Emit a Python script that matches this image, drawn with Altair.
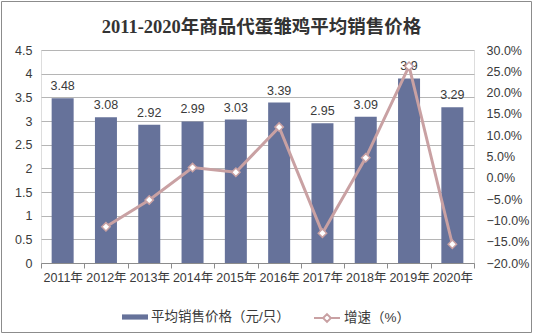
import altair as alt
import pandas as pd

years = ["2011年", "2012年", "2013年", "2014年", "2015年",
         "2016年", "2017年", "2018年", "2019年", "2020年"]
prices = [3.48, 3.08, 2.92, 2.99, 3.03, 3.39, 2.95, 3.09, 3.9, 3.29]
growth = [None, -0.115, -0.052, 0.024, 0.013, 0.119, -0.130, 0.047, 0.262, -0.156]
left_ticks = [0, 0.5, 1, 1.5, 2, 2.5, 3, 3.5, 4, 4.5]
right_ticks = [-0.2, -0.15, -0.1, -0.05, 0.0, 0.05, 0.1, 0.15, 0.2, 0.25, 0.3]
s_price = "平均销售价格（元/只）"
s_growth = "增速（%）"
title = "2011-2020年商品代蛋雏鸡平均销售价格"

BAR = "#66729A"
LINE = "#C9A1A3"
TXT = "#3a3a3a"
FONT = "Liberation Sans, Noto Sans CJK SC"

df = pd.DataFrame({"year": years, "price": prices, "growth": growth,
                   "s1": s_price, "s2": s_growth})

x = alt.X("year:N", sort=years, title=None,
          scale=alt.Scale(paddingInner=0, paddingOuter=0),
          axis=alt.Axis(labelAngle=0, tickBand="extent", domainColor="#8c8c8c",
                        tickColor="#8c8c8c", tickSize=5, labelPadding=3,
                        labelFontSize=12.5, labelColor=TXT, labelFont=FONT))

yl = alt.Y("price:Q", title=None,
           scale=alt.Scale(domain=[0, 4.5], nice=False),
           axis=alt.Axis(values=left_ticks, format=".1~f", domain=False, ticks=False,
                         grid=True, gridColor="#b5b5b5", labelPadding=9,
                         labelFontSize=12.5, labelColor=TXT, labelFont=FONT))

yr = alt.Y("growth:Q", title=None,
           scale=alt.Scale(domain=[-0.2, 0.3], nice=False),
           axis=alt.Axis(orient="right", values=right_ticks, format=".1%",
                         domain=False, ticks=False, grid=False, labelPadding=12,
                         labelFontSize=12.5, labelColor=TXT, labelFont=FONT))

bar_path = "M-1,-0.2H1V0.2H-1Z"
line_path = "M-1,0H-0.3M0.3,0H1M0,-0.3L0.3,0L0,0.3L-0.3,0Z"

bars = alt.Chart(df).mark_bar(size=22).encode(
    x=x, y=yl,
    fill=alt.Fill("s1:N", scale=alt.Scale(range=[BAR]),
                  legend=alt.Legend(title=None, orient="none", legendX=81, legendY=254,
                                    symbolType=bar_path, symbolSize=676,
                                    symbolStrokeWidth=0, labelOffset=3,
                                    labelFontSize=13.5, labelColor=TXT, labelFont=FONT)))

labels = alt.Chart(df).mark_text(baseline="bottom", dy=-5, fontSize=12.5,
                                 color=TXT, font=FONT).encode(
    x=x, y=yl, text=alt.Text("price:Q", format="~g"))

left = alt.layer(bars, labels)

gdf = df.dropna(subset=["growth"])
line = alt.Chart(gdf).mark_line(strokeWidth=3).encode(
    x=x, y=yr,
    stroke=alt.Stroke("s2:N", scale=alt.Scale(range=[LINE]),
                      legend=alt.Legend(title=None, orient="none", legendX=272, legendY=254,
                                        symbolType=line_path, symbolSize=676,
                                        symbolStrokeWidth=2, symbolFillColor="white",
                                        labelOffset=3, labelFontSize=13.5,
                                        labelColor=TXT, labelFont=FONT)))

points = alt.Chart(gdf).mark_point(shape="diamond", filled=True, fill="white",
                                   size=70, strokeWidth=1.5, opacity=1).encode(
    x=x, y=yr, stroke=alt.Stroke("s2:N", scale=alt.Scale(range=[LINE]), legend=None))

right = alt.layer(line, points)

frame = alt.Chart(alt.Data(values=[{"a": 1}])).mark_rect(
    filled=False, stroke="#8c8c8c", strokeWidth=1).encode(
    x=alt.value(-39.5), x2=alt.value(490.5), y=alt.value(-48.5), y2=alt.value(282.5))

chart = alt.layer(left, right, frame).resolve_scale(
    y="independent", fill="independent", stroke="independent"
).properties(
    width=433, height=213,
    title=alt.TitleParams(title, fontSize=18.5, font="Liberation Serif, Noto Sans CJK SC",
                          fontWeight="bold", color="#333333", anchor="middle", dx=4,
                          offset=-35),
    autosize=alt.AutoSizeParams(type="none"),
    padding={"left": 41, "top": 50, "right": 59, "bottom": 72},
).configure_view(stroke=None).configure(background="white")

chart.save("out.html", embed_options={"renderer": "svg", "actions": False})
